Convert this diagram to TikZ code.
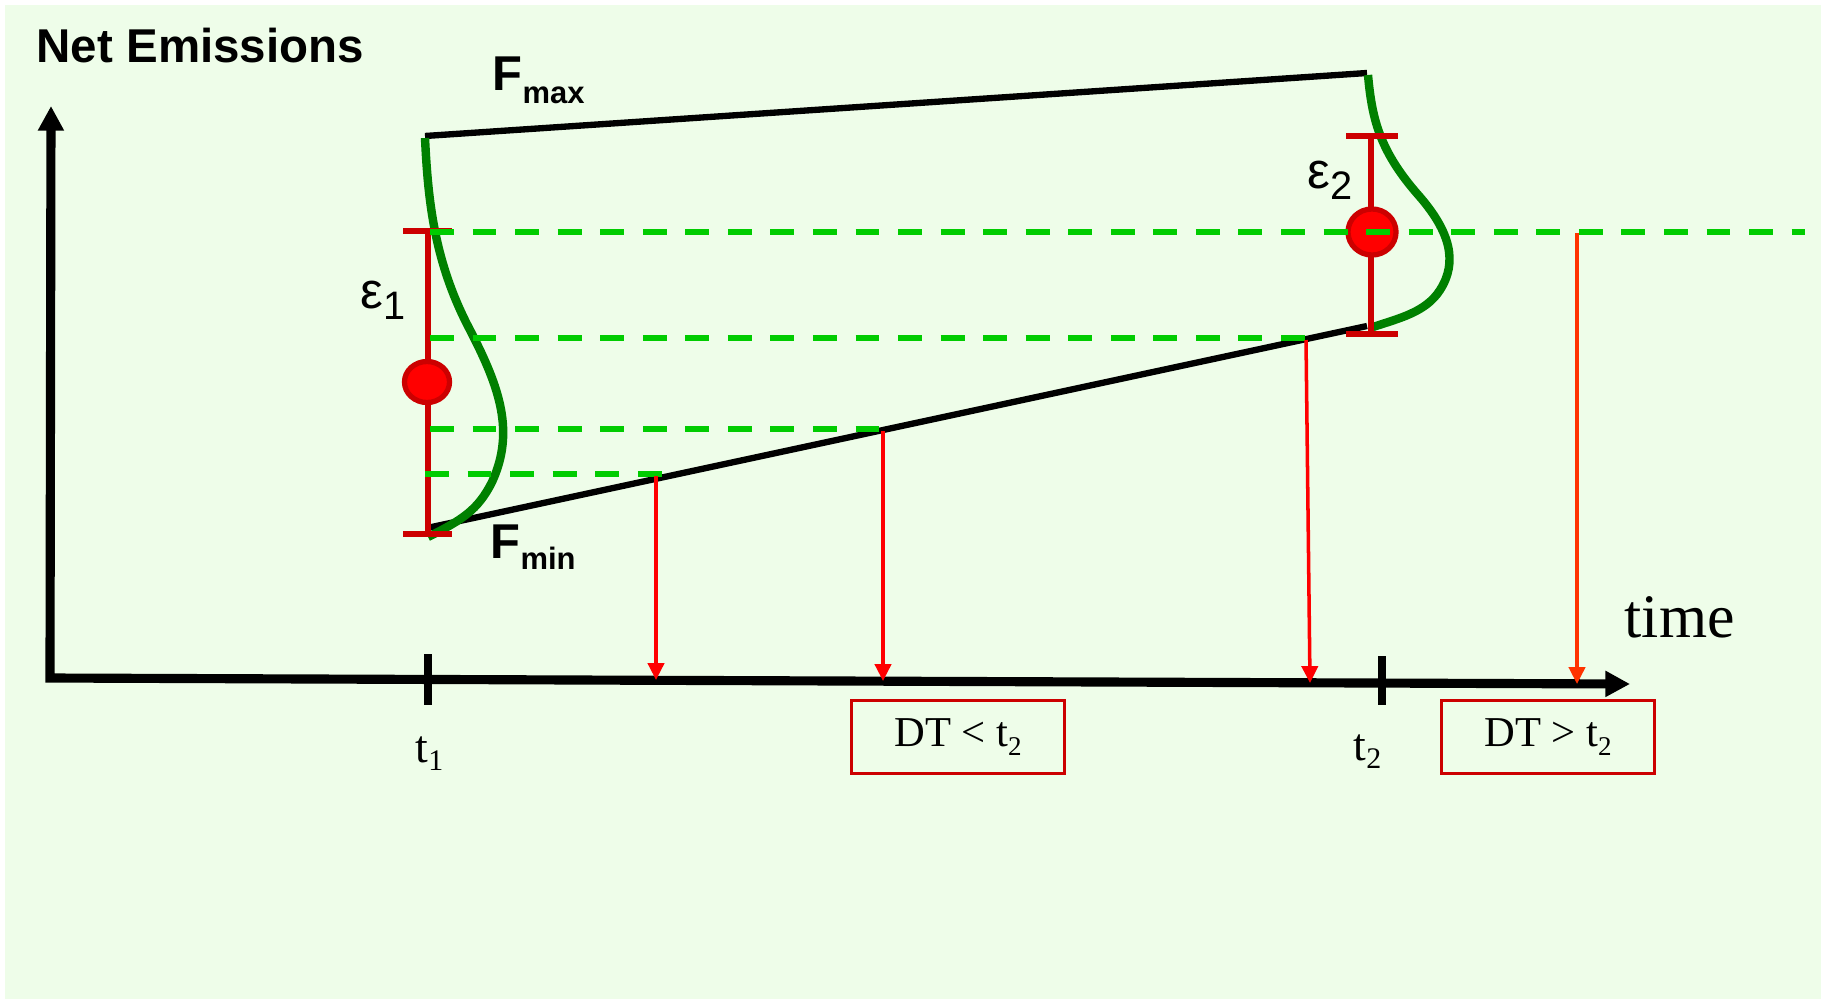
\documentclass[tikz,border=0pt]{standalone}
\usepackage{fontspec}
\setmainfont{Liberation Serif}
\newfontfamily\arialfont{Liberation Sans}
\usepackage{tikz}
\usetikzlibrary{arrows.meta,shapes.geometric}
\definecolor{paleground}{HTML}{EEFDE9}
\definecolor{pdfgreen}{HTML}{008000}
\definecolor{levelgreen}{HTML}{00CC00}
\definecolor{barred}{HTML}{CC0000}
\definecolor{dropred}{HTML}{FF0000}
\definecolor{droporange}{HTML}{FF3300}
\newcommand{\lowsub}[3]{\raisebox{-#1}{\fontsize{#2}{#2}\selectfont #3}}

\begin{document}
\begin{tikzpicture}[
  x=0.01cm, y=-0.01cm,
  lbl/.style={inner sep=0pt, anchor=base west},
  axis/.style={line width=2.6pt, {Triangle[length=7pt, width=7pt]}-{Triangle[length=7pt, width=7pt]}},
  tick/.style={line width=2.5pt},
  bound/.style={line width=1.8pt},
  pdf/.style={line width=2.4pt, pdfgreen},
  errbar/.style={line width=1.7pt, barred},
  level/.style={line width=1.9pt, levelgreen, dash pattern=on 6.8pt off 5.3pt},
  drop/.style={line width=1pt, dropred, -{Triangle[length=4.8pt, width=4.6pt]}},
  mean/.style={ellipse, draw=barred, fill=red, line width=1.5pt, inner sep=0pt},
  dtbox/.style={draw=barred, line width=0.7pt, minimum width=2.13cm, minimum height=0.73cm, inner sep=0pt},
]
  \useasboundingbox (0,0) rectangle (1825,1000);
  \fill[paleground] (5,5) rectangle (1821,999);

  \coordinate (origin) at (50,678);
  \coordinate (ytip) at (51,106);
  \coordinate (xtip) at (1630,684);
  \draw[axis] (ytip) -- (origin) -- (xtip);
  \draw[tick] (428,654) -- (428,705);
  \draw[tick] (1382,656) -- (1382,705);

  \draw[bound] (425,136) -- (1367,73);
  \draw[bound] (427,528) -- (1367,326);

  \draw[pdf] (425,138) .. controls (428,200) and (434,262) .. (470,330)
    .. controls (500,388) and (515,432) .. (492,482)
    .. controls (478,510) and (462,520) .. (428,537);
  \draw[pdf] (1368,75) .. controls (1372,120) and (1380,152) .. (1420,197)
    .. controls (1450,232) and (1458,262) .. (1440,290)
    .. controls (1426,312) and (1400,318) .. (1373,327);

  \draw[errbar] (428,231) -- (428,534);
  \draw[errbar] (403,231) -- (452,231);
  \draw[errbar] (403,534) -- (452,534);
  \draw[errbar] (1371,136) -- (1371,334);
  \draw[errbar] (1346,136) -- (1398,136);
  \draw[errbar] (1346,334) -- (1398,334);

  \node[mean, minimum width=0.45cm, minimum height=0.41cm] (mean1) at (427,382) {};
  \node[mean, minimum width=0.48cm, minimum height=0.46cm] (mean2) at (1372,232) {};

  \draw[level] (430,232) -- (1805,232);
  \draw[level] (430,338) -- (1305,338);
  \draw[level] (430,429) -- (886,429);
  \draw[level] (425,474) -- (662,474);

  \coordinate (hit1) at (656,476);  \coordinate (foot1) at (656,680);
  \coordinate (hit2) at (883,431);  \coordinate (foot2) at (883,681);
  \coordinate (hit3) at (1306,340); \coordinate (foot3) at (1310,683);
  \coordinate (hit4) at (1577,233); \coordinate (foot4) at (1577,684);
  \draw[drop] (hit1) -- (foot1);
  \draw[drop] (hit2) -- (foot2);
  \draw[drop] (hit3) -- (foot3);
  \draw[drop, droporange] (hit4) -- (foot4);

  \node[lbl, font=\arialfont\bfseries\fontsize{13.5}{16}\selectfont] (ylabel) at (36,62) {Net Emissions};
  \node[lbl, font=\arialfont\bfseries\fontsize{13.9}{16}\selectfont] (fmax) at (492,90) {F\lowsub{3.7pt}{8.8pt}{max}};
  \node[lbl, font=\arialfont\bfseries\fontsize{13.9}{16}\selectfont] (fmin) at (490,558) {F\lowsub{3.2pt}{8.8pt}{min}};
  \node[lbl, font=\arialfont\fontsize{14.5}{17}\selectfont] (eps1) at (360,308) {ε\lowsub{3.4pt}{11.3pt}{1}};
  \node[lbl, font=\arialfont\fontsize{14.5}{17}\selectfont] (eps2) at (1307,188) {ε\lowsub{3.4pt}{11.3pt}{2}};
  \node[lbl, font=\fontsize{13}{15}\selectfont] (t1) at (415,762) {t\lowsub{2.3pt}{8.5pt}{1}};
  \node[lbl, font=\fontsize{13}{15}\selectfont] (t2) at (1353,760) {t\lowsub{2.3pt}{8.5pt}{2}};
  \node[lbl, font=\fontsize{17.6}{20}\selectfont] (time) at (1624,637) {time};

  \node[dtbox, font=\fontsize{12.1}{14}\selectfont] (early) at (958,737) {DT < t\lowsub{2.8pt}{7.7pt}{2}};
  \node[dtbox, font=\fontsize{12.1}{14}\selectfont] (late) at (1548,737) {DT > t\lowsub{2.8pt}{7.7pt}{2}};
\end{tikzpicture}
\end{document}
